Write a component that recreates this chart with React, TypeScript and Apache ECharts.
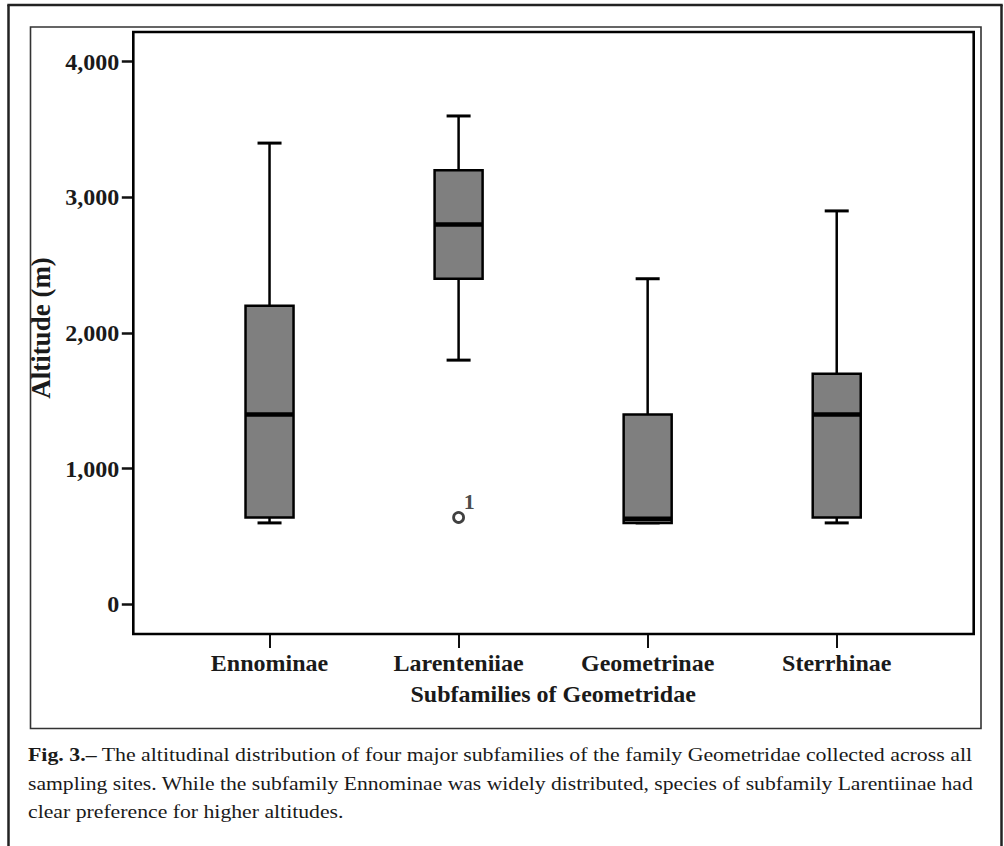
import React, { useEffect, useRef } from "react";
import * as echarts from "echarts";

const categories = ["Ennominae", "Larenteniiae", "Geometrinae", "Sterrhinae"];
const whiskerLow = [600, 1800, 600, 600];
const quartile1 = [640, 2400, 600, 640];
const medians = [1400, 2800, 630, 1400];
const quartile3 = [2200, 3200, 1400, 1700];
const whiskerHigh = [3400, 3600, 2400, 2900];

const outlierCategories = ["Larenteniiae"];
const outlierValues = [640];
const outlierLabels = ["1"];

const yTickValues = [0, 1000, 2000, 3000, 4000];
const yAxisMin = -219;
const yAxisMax = 4219;
const xAxisTitle = "Subfamilies of Geometridae";
const yAxisTitle = "Altitude (m)";

const captionBold = "Fig. 3.–";
const captionLines = [
  " The altitudinal distribution of four major subfamilies of the family Geometridae collected across all",
  "sampling sites. While the subfamily Ennominae was widely distributed, species of subfamily Larentiinae had",
  "clear preference for higher altitudes.",
];

const FONT = "'Liberation Serif', 'Times New Roman', Times, serif";

function measure(text: string, font: string): number {
  const ctx = document.createElement("canvas").getContext("2d");
  if (!ctx) return text.length * 8;
  ctx.font = font;
  return ctx.measureText(text).width;
}

export default function App() {
  const ref = useRef<HTMLDivElement>(null);

  useEffect(() => {
    if (!ref.current) return;
    const chart = echarts.init(ref.current, null, { renderer: "svg" });

    const capSize = 19;
    const capLeft = 28;
    const capRight = 973;
    const target = capRight - capLeft;
    const normalFont = `${capSize}px ${FONT}`;
    const boldFont = `bold ${capSize}px ${FONT}`;
    const w1 = measure(captionBold, boldFont) + measure(captionLines[0], normalFont);
    const w2 = measure(captionLines[1], normalFont);
    const s1 = target / w1;
    const s2 = target / w2;
    const s3 = (s1 + s2) / 2;

    const boxData = categories.map((c, i) => [
      i,
      whiskerLow[i],
      quartile1[i],
      medians[i],
      quartile3[i],
      whiskerHigh[i],
    ]);

    const outlierData = outlierValues.map((v, i) => [
      categories.indexOf(outlierCategories[i]),
      v,
    ]);

    const captionTextStyle = (text: string) => ({
      text,
      fontFamily: FONT,
      fontSize: capSize,
      fill: "#1a1a1a",
      align: "left",
      verticalAlign: "middle",
      rich: {
        b: { fontFamily: FONT, fontSize: capSize, fontWeight: "bold", fill: "#1a1a1a" },
      },
    });

    chart.setOption({
      animation: false,
      backgroundColor: "#ffffff",
      grid: {
        left: 175,
        right: 72.75,
        top: 32,
        bottom: 212,
        containLabel: false,
      },
      xAxis: {
        type: "category",
        data: categories,
        position: "bottom",
        axisLine: { show: false, onZero: false },
        axisTick: {
          show: true,
          alignWithLabel: true,
          length: 14,
          lineStyle: { color: "#111", width: 2 },
        },
        axisLabel: {
          fontFamily: FONT,
          fontWeight: "bold",
          fontSize: 24,
          color: "#1a1a1a",
          margin: 16.5,
        },
        splitLine: { show: false },
        name: xAxisTitle,
        nameLocation: "middle",
        nameGap: 47.5,
        nameTextStyle: {
          fontFamily: FONT,
          fontWeight: "bold",
          fontSize: 24,
          color: "#1a1a1a",
        },
      },
      yAxis: {
        type: "value",
        min: yAxisMin,
        max: yAxisMax,
        offset: 41.7,
        axisLine: { show: false, onZero: false },
        splitLine: { show: false },
        axisTick: {
          show: true,
          length: 11.5,
          customValues: yTickValues,
          lineStyle: { color: "#111", width: 2.5 },
        },
        axisLabel: {
          fontFamily: FONT,
          fontWeight: "bold",
          fontSize: 24,
          color: "#1a1a1a",
          margin: 14,
          customValues: yTickValues,
          formatter: (v: number) => v.toLocaleString("en-US"),
        },
        name: yAxisTitle,
        nameLocation: "middle",
        nameGap: 75,
        nameRotate: 90,
        nameTextStyle: {
          fontFamily: FONT,
          fontWeight: "bold",
          fontSize: 27,
          color: "#1a1a1a",
          padding: [0, 0, 0, 10],
        },
      },
      series: [
        {
          type: "custom",
          data: boxData,
          encode: { x: 0, y: [1, 2, 3, 4, 5] },
          renderItem: (params: any, api: any) => {
            const idx = api.value(0);
            const cx = api.coord([idx, 0])[0];
            const yv = (k: number) => api.coord([idx, api.value(k)])[1];
            const yMin = yv(1);
            const yQ1 = yv(2);
            const yMed = yv(3);
            const yQ3 = yv(4);
            const yMax = yv(5);
            const band = api.size([1, 0])[0];
            const half = band * 0.127;
            const capHalf = half / 2;
            const lineStyle = { stroke: "#000", lineWidth: 2.5 };
            return {
              type: "group",
              children: [
                { type: "line", shape: { x1: cx, y1: yQ3, x2: cx, y2: yMax }, style: lineStyle },
                { type: "line", shape: { x1: cx - capHalf, y1: yMax, x2: cx + capHalf, y2: yMax }, style: { stroke: "#000", lineWidth: 3 } },
                { type: "line", shape: { x1: cx, y1: yQ1, x2: cx, y2: yMin }, style: lineStyle },
                { type: "line", shape: { x1: cx - capHalf, y1: yMin, x2: cx + capHalf, y2: yMin }, style: { stroke: "#000", lineWidth: 3 } },
                {
                  type: "rect",
                  shape: { x: cx - half, y: yQ3, width: half * 2, height: yQ1 - yQ3 },
                  style: { fill: "#7f7f7f", stroke: "#000", lineWidth: 2.5 },
                },
                { type: "line", shape: { x1: cx - half, y1: yMed, x2: cx + half, y2: yMed }, style: { stroke: "#000", lineWidth: 4.5 } },
              ],
            };
          },
          z: 2,
        },
        {
          type: "scatter",
          data: outlierData,
          symbol: "circle",
          symbolSize: 10,
          itemStyle: { color: "rgba(0,0,0,0)", borderColor: "#111", borderWidth: 2.8 },
          label: {
            show: true,
            formatter: (p: any) => outlierLabels[p.dataIndex],
            position: [17, -10],
            align: "center",
            verticalAlign: "middle",
            fontFamily: FONT,
            fontWeight: "bold",
            fontSize: 22,
            color: "#1a1a1a",
          },
          z: 3,
        },
      ],
      graphic: [
        { type: "line", shape: { x1: 8.5, y1: 5, x2: 8.5, y2: 850 }, style: { stroke: "#222", lineWidth: 2.5 }, z: 10 },
        { type: "line", shape: { x1: 7.3, y1: 5, x2: 1002.7, y2: 5 }, style: { stroke: "#222", lineWidth: 2.5 }, z: 10 },
        { type: "line", shape: { x1: 1001.5, y1: 5, x2: 1001.5, y2: 850 }, style: { stroke: "#222", lineWidth: 2.5 }, z: 10 },
        { type: "rect", shape: { x: 30.5, y: 27, width: 950.5, height: 701.5 }, style: { fill: "none", stroke: "#333", lineWidth: 1.6 }, z: 10 },
        { type: "rect", shape: { x: 133.3, y: 32, width: 840.4, height: 602 }, style: { fill: "none", stroke: "#000", lineWidth: 2.6 }, z: 10 },
        { type: "text", x: capLeft, y: 754.5, scaleX: s1, style: captionTextStyle(`{b|${captionBold}}${captionLines[0]}`), z: 10 },
        { type: "text", x: capLeft, y: 783.5, scaleX: s2, style: captionTextStyle(captionLines[1]), z: 10 },
        { type: "text", x: capLeft, y: 811.5, scaleX: s3, style: captionTextStyle(captionLines[2]), z: 10 },
      ],
    });

    return () => {
      chart.dispose();
    };
  }, []);

  return (
    <div
      ref={ref}
      style={{ position: "absolute", left: 0, top: 0, width: 1004, height: 846, background: "#fff" }}
    />
  );
}
